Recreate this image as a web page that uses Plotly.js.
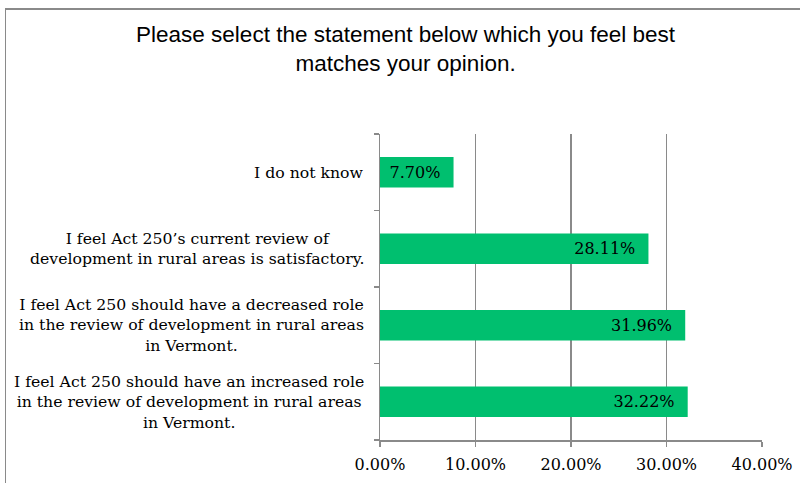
<!DOCTYPE html>
<html>
<head>
<meta charset="utf-8">
<script src="https://cdn.plot.ly/plotly-3.0.1.min.js"></script>
<style>
  html, body { margin: 0; padding: 0; background: #fff; overflow: hidden; }
  #wrap { position: relative; width: 800px; height: 483px; }
  #chart { position: absolute; left: 0; top: 0; width: 800px; height: 483px; }
  /* outer frame of the chart; right and bottom edges run off the page */
  #frame { position: absolute; left: 5px; top: 8px; width: 820px; height: 500px;
           border-left: 1px solid #8a8a8a; border-top: 2px solid #8a8a8a;
           pointer-events: none; z-index: 5; }
</style>
</head>
<body>
<div id="wrap">
  <div id="chart"></div>
  <div id="frame"></div>
</div>
<script>
"use strict";

// answers, bottom to top as plotly stacks categories
const answers = [
    "I feel Act 250 should have an increased role<br>in the review of development in rural areas<br>in Vermont.",
    "I feel Act 250 should have a decreased role<br>in the review of development in rural areas<br>in Vermont.",
    "I feel Act 250\u2019s current review of<br>development in rural areas is satisfactory.",
    "I do not know",
];
const shares = [32.22, 31.96, 28.11, 7.70];
const xTicks = [0, 10, 20, 30, 40];

const green = "#00bf6f";
const grey = "#8a8a8a";
const serif = "DejaVu Serif, Cambria, serif";

var bars = {
    type: "bar",
    orientation: "h",
    x: shares,
    y: answers,
    width: 0.4,
    marker: { color: green, line: { width: 0 } },
    text: shares.map(v => v.toFixed(2) + "%\u00a0\u00a0"),
    textposition: "inside",
    insidetextanchor: "end",
    textfont: { family: serif, size: 16, color: "#000" },
    hoverinfo: "skip",
};

// category labels: centred lines, right edge next to the axis
var labels = answers.map(a => ({
    x: 0, xref: "paper", xanchor: "right", xshift: -14,
    y: a, yref: "y",
    text: a, align: "center", showarrow: false,
    font: { family: serif, size: 15.7, color: "#000" },
}));

var layout = {
    width: 800,
    height: 483,
    margin: { l: 380, r: 38, t: 134, b: 43 },
    paper_bgcolor: "rgba(0,0,0,0)",
    plot_bgcolor: "rgba(0,0,0,0)",
    showlegend: false,
    title: {
        text: "Please select the statement below which you feel best<br>matches your opinion.",
        font: { family: "Liberation Sans, Arial, sans-serif", size: 22.5, color: "#000" },
        x: 0.507, xref: "container", xanchor: "center",
        y: 0.913, yref: "container", yanchor: "top",
    },
    xaxis: {
        range: [0, 40],
        tickvals: xTicks,
        ticktext: xTicks.map(v => v.toFixed(2) + "%"),
        tickfont: { family: serif, size: 16, color: "#000" },
        ticklabelstandoff: 4,
        showgrid: true,
        gridcolor: grey,
        gridwidth: 1.5,
        zeroline: false,
        showline: true,
        linecolor: grey,
        linewidth: 1.5,
        ticks: "outside",
        ticklen: 5,
        tickcolor: grey,
        tickwidth: 1.5,
        fixedrange: true,
    },
    yaxis: {
        type: "category",
        categoryorder: "array",
        categoryarray: answers,
        showticklabels: false,
        tickson: "boundaries",
        ticks: "outside",
        ticklen: 5,
        tickcolor: grey,
        tickwidth: 1.5,
        showgrid: false,
        showline: true,
        linecolor: grey,
        linewidth: 1.5,
        fixedrange: true,
    },
    annotations: labels,
};

Plotly.newPlot("chart", [bars], layout, { displayModeBar: false, staticPlot: true });
</script>
</body>
</html>
